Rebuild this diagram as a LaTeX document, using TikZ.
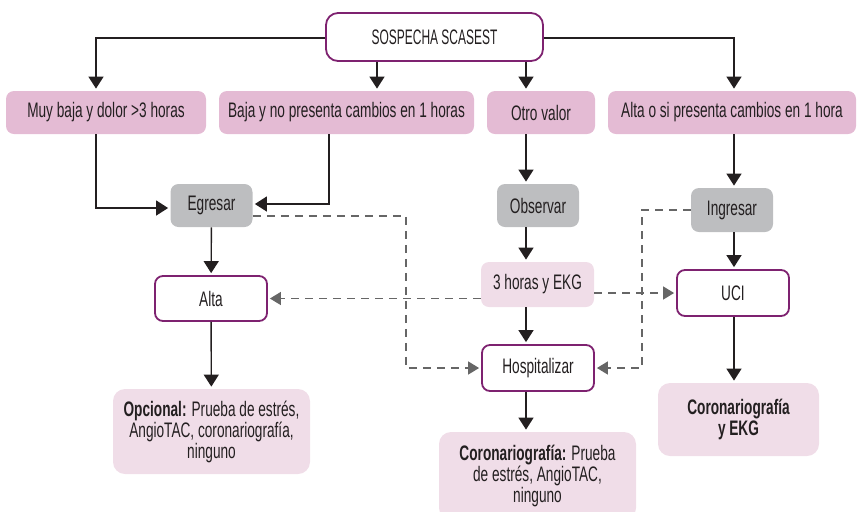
\documentclass[tikz,border=0pt]{standalone}
\usepackage{xcolor}
\usepackage{fontspec}
\setmainfont{Liberation Sans}[FakeStretch=0.65]
\newfontfamily\capsfont{Liberation Sans}[FakeStretch=0.57]
\usepackage{tikz}
\usetikzlibrary{positioning,arrows.meta,calc}
\definecolor{plum}{HTML}{7E2270}
\definecolor{ink}{HTML}{231F20}
\definecolor{pinkbg}{HTML}{E4BBD4}
\definecolor{lightbg}{HTML}{F0DDE8}
\definecolor{graybg}{HTML}{BDBEC0}
\definecolor{dashgray}{HTML}{666666}
\tikzset{
  blkt/.style={rectangle,rounded corners=6pt,draw=plum,line width=0.9pt,fill=white,
    align=center,inner sep=3pt,text=ink,font=\capsfont\fontsize{10.5}{10.5}\selectfont},
  blkp/.style={rectangle,rounded corners=4pt,fill=pinkbg,
    align=center,inner sep=3pt,text=ink,font=\fontsize{10.5}{10.5}\selectfont,minimum height=21.5pt},
  blkg/.style={rectangle,rounded corners=4pt,fill=graybg,
    align=center,inner sep=3pt,text=ink,font=\fontsize{10.5}{10.5}\selectfont,minimum width=41pt,minimum height=21.5pt},
  blko/.style={rectangle,rounded corners=4pt,draw=plum,line width=0.9pt,fill=white,
    align=center,inner sep=3pt,text=ink,font=\fontsize{10.5}{10.5}\selectfont,minimum width=56pt,minimum height=22.5pt},
  blkl/.style={rectangle,rounded corners=6pt,fill=lightbg,
    align=center,inner sep=3pt,text=ink,font=\fontsize{10.5}{10.5}\selectfont},
  ar/.style={-{Triangle[length=6pt,width=7.5pt]},line width=0.7pt,draw=ink,shorten >=1pt},
  ard/.style={-{Triangle[length=5.5pt,width=6.5pt]},line width=0.7pt,draw=dashgray,
    dash pattern=on 4pt off 3pt,shorten >=1pt},
}

\begin{document}
\begin{tikzpicture}[x=0.5pt,y=-0.5pt]
  \useasboundingbox (0,0) rectangle (858,511);
  % columns of the vertical connectors
  \coordinate (cola) at (96,0);
  \coordinate (colb) at (329,0);
  \coordinate (colm) at (526,0);
  \coordinate (colr) at (734,0);
  \coordinate (dl) at (406,0);
  \coordinate (dr) at (642,0);

  \node[blkt,minimum width=108.5pt,minimum height=24pt] (sosp) at (434.5,37) {SOSPECHA SCASEST};

  \node[blkp,minimum width=100pt] (muy) at (106,112.5) {Muy baja y dolor >3 horas};
  \node[blkp,minimum width=127.5pt] (baja) at (346.5,112.5) {Baja y no presenta cambios en 1 horas};
  \node[blkp,minimum width=54pt] (otro) at (541,112.5) {Otro valor};
  \node[blkp,minimum width=124pt] (altaosi) at (732,112.5) {Alta o si presenta cambios en 1 hora};

  \node[blkg] (egresar) at (211.5,205.5) {Egresar};
  \node[blkg] (observar) at (538,205.5) {Observar};
  \node[blkg,minimum height=22pt] (ingresar) at (732,210) {Ingresar};

  \node[blko] (alta) at (211,298.5) {Alta};
  \node[blkl,rounded corners=4pt,minimum width=56.5pt,minimum height=22.5pt] (tres) at (537.5,284.5) {3 horas y EKG};
  \node[blko,minimum height=23pt] (uci) at (733,293) {UCI};
  \node[blko,minimum height=23pt] (hosp) at (538,368) {Hospitalizar};

  \node[blkl,minimum width=98.5pt,minimum height=42.5pt] (opc) at (211.5,431.5)
    {\textbf{Opcional:} Prueba de estrés,\\ AngioTAC, coronariografía,\\ ninguno};
  \node[blkl,minimum width=98.5pt,minimum height=44pt] (coro) at (537.5,476)
    {\textbf{Coronariografía:} Prueba\\ de estrés, AngioTAC,\\ ninguno};
  \node[blkl,minimum width=80.5pt,minimum height=36.5pt,font=\fontsize{10.5}{10.5}\selectfont\bfseries] (coroekg) at (738.5,419.5)
    {Coronariografía\\ y EKG};

  % from the top
  \draw[ar] ([yshift=-0.5pt]sosp.west) -| (muy.north -| cola);
  \draw[ar] (sosp.south -| colb) ++(48,0) -- ($(baja.north -| colb)+(48,0)$);
  \draw[ar] (sosp.south -| colm) -- (otro.north -| colm);
  \draw[ar] ([yshift=-0.5pt]sosp.east) -| (altaosi.north -| colr);

  % left branch
  \draw[ar] (muy.south -| cola) |- ([yshift=-1.25pt]egresar.west);
  \draw[ar] (baja.south -| colb) |- ([yshift=0.75pt]egresar.east);
  \draw[ar] (egresar) -- (alta);
  \draw[ar] (alta) -- (opc);

  % middle branch
  \draw[ar] (otro.south -| colm) -- (observar.north -| colm);
  \draw[ar] (observar.south -| colm) -- (tres.north -| colm);
  \draw[ar] (tres.south -| colm) -- (hosp.north -| colm);
  \draw[ar] (hosp.south -| colm) -- (coro.north -| colm);

  % right branch
  \draw[ar] (altaosi.south -| colr) -- (ingresar.north -| colr);
  \draw[ar] (ingresar.south -| colr) -- (uci.north -| colr);
  \draw[ar] (uci.south -| colr) -- (coroekg.north -| colr);

  % dashed
  \draw[ard] ([yshift=-5.25pt]egresar.east) -| (dl |- hosp.west) -- (hosp.west);
  \draw[ard] (ingresar.west) -| (dr |- hosp.east) -- (hosp.east);
  \draw[ard] (tres.west |- alta.east) -- (alta.east);
  \draw[ard] (tres.east |- uci.west) -- (uci.west);
\end{tikzpicture}
\end{document}
